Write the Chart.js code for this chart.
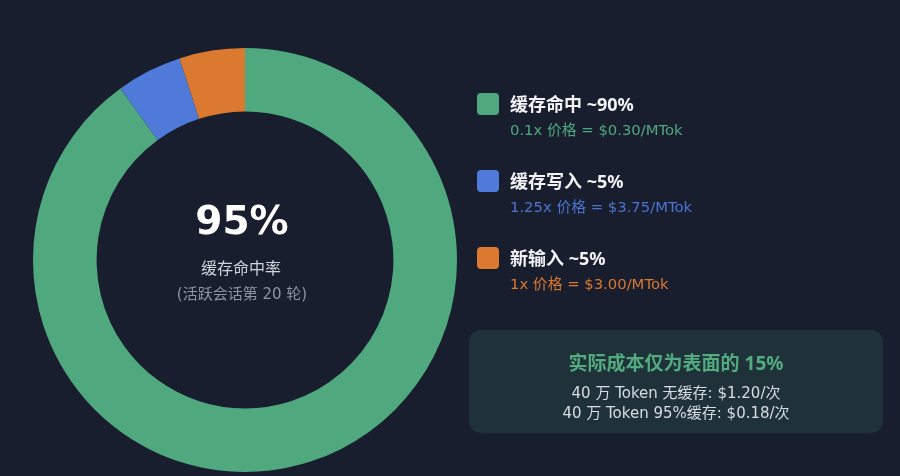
<!DOCTYPE html>
<html>
<head>
<meta charset="utf-8">
<script src="https://cdn.jsdelivr.net/npm/chart.js@4"></script>
<style>
    body {
        margin: 0;
        background: #191e2e;
        font-family: "Noto Sans", "Noto Sans CJK SC", sans-serif;
    }
    #wrap {
        position: relative;
        width: 900px;
        height: 476px;
        overflow: hidden;
    }
    #donut {
        position: absolute;
        left: 0;
        top: 0;
    }
    .item {
        position: absolute;
        left: 477px;
    }
    .swatch {
        position: absolute;
        left: 0;
        top: 0;
        width: 22px;
        height: 22px;
        border-radius: 4px;
    }
    .label {
        position: absolute;
        left: 33px;
        top: 0;
        white-space: nowrap;
        font-size: 18px;
        line-height: 22px;
        font-weight: bold;
        color: #f2f4f7;
    }
    .note {
        position: absolute;
        left: 33px;
        top: 28px;
        white-space: nowrap;
        font-family: "DejaVu Sans", "Noto Sans CJK SC", sans-serif;
        font-size: 14.8px;
        line-height: 18px;
    }
    #box {
        position: absolute;
        left: 469px;
        top: 330px;
        width: 414px;
        height: 103px;
        border-radius: 12px;
        background: #1f3139;
        text-align: center;
    }
    #boxTitle {
        position: absolute;
        left: 0;
        right: 0;
        top: 22px;
        font-size: 19px;
        line-height: 22px;
        font-weight: bold;
        color: #52ac80;
    }
    .boxLine {
        position: absolute;
        left: 0;
        right: 0;
        font-family: "DejaVu Sans", "Noto Sans CJK SC", sans-serif;
        font-size: 15px;
        line-height: 20px;
        color: #d8dce3;
    }
</style>
</head>
<body>
<div id="wrap">
    <canvas id="donut" width="900" height="476"></canvas>
    <div id="legend"></div>
    <div id="box">
        <div id="boxTitle"></div>
        <div class="boxLine" id="boxLine1" style="top: 53px;"></div>
        <div class="boxLine" id="boxLine2" style="top: 73px;"></div>
    </div>
</div>

<script>

//
// Data
//

const categories = ["缓存命中", "缓存写入", "新输入"];
const shares = [90, 5, 5];
const priceNotes = [
    "0.1x 价格 = $0.30/MTok",
    "1.25x 价格 = $3.75/MTok",
    "1x 价格 = $3.00/MTok"
];
const colors = ["#4fa87e", "#4f7ad9", "#da792f"];
const noteColors = ["#4fa87e", "#4a74d2", "#d9782f"];

const hitRateText = "95%";
const hitRateLabel = "缓存命中率";
const hitRateNote = "(活跃会话第 20 轮)";

const summaryTitle = "实际成本仅为表面的 15%";
const summaryLines = [
    "40 万 Token 无缓存: $1.20/次",
    "40 万 Token 95%缓存: $0.18/次"
];

//
// Center text plugin
//

const centerTextPlugin = {
    id: "centerText",

    afterDraw(chart) {

        const { ctx } = chart;
        const arc = chart.getDatasetMeta(0).data[0];
        if (!arc) return;

        const cx = arc.x;
        const cy = arc.y;

        ctx.save();
        ctx.textAlign = "center";
        ctx.textBaseline = "middle";

        ctx.fillStyle = "#ffffff";
        ctx.font = "bold 39px 'DejaVu Sans', 'Noto Sans CJK SC', sans-serif";
        ctx.fillText(hitRateText, cx - 3, cy - 36);

        ctx.fillStyle = "#cfd3da";
        ctx.font = "16px 'Noto Sans CJK SC', sans-serif";
        ctx.fillText(hitRateLabel, cx - 4, cy + 8);

        ctx.fillStyle = "#8d93a1";
        ctx.font = "15px 'DejaVu Sans', 'Noto Sans CJK SC', sans-serif";
        ctx.fillText(hitRateNote, cx - 3, cy + 35);

        ctx.restore();
    }
};

//
// Chart
//

new Chart(document.getElementById("donut"), {
    type: "doughnut",
    data: {
        labels: categories,
        datasets: [{
            data: shares,
            backgroundColor: colors,
            borderWidth: 0,
            hoverOffset: 0
        }]
    },
    options: {
        responsive: false,
        animation: false,
        cutout: "70%",
        layout: {
            padding: { left: 33, right: 443, top: 48, bottom: 4 }
        },
        plugins: {
            legend: { display: false },
            tooltip: { enabled: false }
        }
    },
    plugins: [centerTextPlugin]
});

//
// Legend and summary box
//

const legend = document.getElementById("legend");

categories.forEach((name, i) => {

    const item = document.createElement("div");
    item.className = "item";
    item.style.top = (93 + i * 77) + "px";

    const swatch = document.createElement("div");
    swatch.className = "swatch";
    swatch.style.background = colors[i];

    const label = document.createElement("div");
    label.className = "label";
    label.textContent = name + " ~" + shares[i] + "%";

    const note = document.createElement("div");
    note.className = "note";
    note.style.color = noteColors[i];
    note.textContent = priceNotes[i];

    item.append(swatch, label, note);
    legend.appendChild(item);
});

document.getElementById("boxTitle").textContent = summaryTitle;
document.getElementById("boxLine1").textContent = summaryLines[0];
document.getElementById("boxLine2").textContent = summaryLines[1];

</script>
</body>
</html>
